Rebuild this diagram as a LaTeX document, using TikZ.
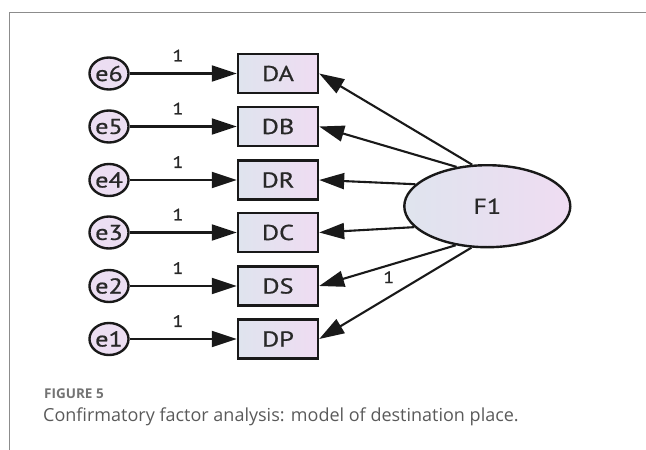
\documentclass[tikz,border=0pt]{standalone}
\usepackage{fontspec}
\setmainfont{Open Sans}
\newfontfamily\diagfont[FakeStretch=1.22,FakeBold=0.8]{PT Sans}
\usetikzlibrary{shapes.geometric,arrows.meta}
\definecolor{shadeL}{RGB}{223,228,238}
\definecolor{shadeR}{RGB}{239,220,242}
\definecolor{errfill}{RGB}{236,222,242}
\definecolor{ink}{RGB}{25,25,25}
\definecolor{txt}{RGB}{40,40,40}
\definecolor{framegray}{RGB}{140,140,140}
\definecolor{capgray}{RGB}{90,90,90}
\definecolor{figgray}{RGB}{115,115,115}
\begin{document}
\begin{tikzpicture}[x=1pt,y=-1pt,
  errnode/.style={ellipse,draw=ink,line width=2.4pt,fill=errfill,minimum width=39pt,minimum height=32pt,inner sep=0pt,font=\diagfont\fontsize{21.5}{21.5}\selectfont,text=txt},
  obsnode/.style={rectangle,draw=ink,line width=2.4pt,left color=shadeL,right color=shadeR,minimum width=80pt,minimum height=39pt,inner sep=0pt,font=\diagfont\fontsize{21.5}{21.5}\selectfont,text=txt},
  latnode/.style={ellipse,draw=ink,line width=2.4pt,left color=shadeL,right color=shadeR,minimum width=166pt,minimum height=82pt,inner sep=0pt,font=\diagfont\fontsize{21.5}{21.5}\selectfont,text=txt},
  arr/.style={draw=ink,line width=2.1pt,-{Triangle[length=25pt,width=16pt]}},
  wlabel/.style={font=\diagfont\fontsize{16.5}{16.5}\selectfont,text=txt,inner sep=0pt}
]
\useasboundingbox (0,0) rectangle (646,450);
\draw[framegray,line width=1pt] (9,450) -- (9,12.3) -- (646,12.3);

\node[errnode] (e6) at (109,73.5) {e6};
\node[errnode] (e5) at (109,126.5) {e5};
\node[errnode] (e4) at (109,180) {e4};
\node[errnode] (e3) at (109,232.5) {e3};
\node[errnode] (e2) at (109,286) {e2};
\node[errnode] (e1) at (109,339) {e1};

\node[obsnode] (DA) at (278,73.5) {DA};
\node[obsnode] (DB) at (278,126.5) {DB};
\node[obsnode] (DR) at (278,180) {DR};
\node[obsnode] (DC) at (278,232.5) {DC};
\node[obsnode] (DS) at (278,286) {DS};
\node[obsnode] (DP) at (278,339) {DP};

\node[latnode] (F1) at (487.3,206.2) {F1};

\foreach \e/\d in {e6/DA,e5/DB,e4/DR,e3/DC,e2/DS,e1/DP}{
  \draw[arr] (\e) -- node[wlabel,pos=0.45,above=11pt]{1} (\d);
}

\draw[arr] (F1.110.7) -- (DA.east);
\draw[arr] (F1.128.8) -- (DB.east);
\draw[arr] (F1.163.5) -- (DR.east);
\draw[arr] (F1.196.5) -- (DC.east);
\draw[arr] (F1.231.2) -- node[wlabel,pos=0.49,below=5pt]{1} (DS.east);
\draw[arr] (F1.249.3) -- (DP.east);

\node[anchor=west,inner sep=0pt,text=figgray,font=\bfseries\fontsize{13.5}{13.5}\selectfont] (figlabel) at (44,394) {FIGURE 5};
\node[anchor=west,inner sep=0pt,text=capgray,font=\fontsize{18}{18}\selectfont] (caption) at (43,417) {Confirmatory factor analysis: model of destination place.};
\end{tikzpicture}
\end{document}
